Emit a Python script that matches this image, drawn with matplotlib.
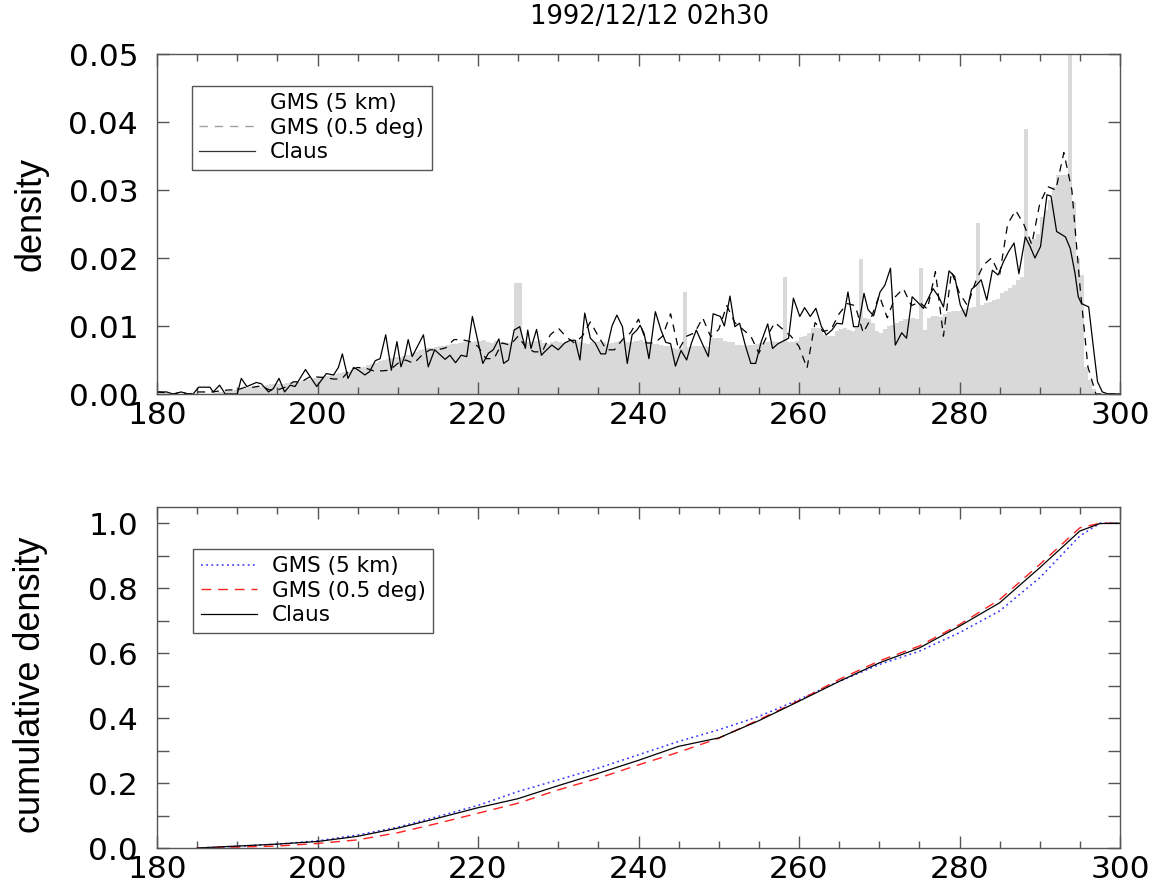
import numpy as np
import matplotlib
matplotlib.use("Agg")
import matplotlib.pyplot as plt
from matplotlib.lines import Line2D
from matplotlib.ticker import MultipleLocator, FormatStrFormatter

# ---------------- data ----------------
title = "1992/12/12 02h30"
series_labels = ["GMS (5 km)", "GMS (0.5 deg)", "Claus"]

# GMS (5 km) histogram, 0.5 K bins from 180 to 300
hist_edges = np.arange(180.0, 300.01, 0.5)
hist_gms5 = [
    0, 0, 0, 0, 0, 0, 0, 0, 0, 0,
    0, 0, 0, 0, 0.0002, 0.0003, 0.0003, 0.0004, 0.0005, 0.0006,
    0.0008, 0.0008, 0.0010, 0.0010, 0.0011, 0.0011, 0.0012, 0.0013, 0.0014, 0.0014,
    0.0015, 0.0015, 0.0016, 0.0017, 0.0018, 0.0018, 0.0020, 0.0021, 0.0022, 0.0023,
    0.0025, 0.0026, 0.0027, 0.0028, 0.0030, 0.0031, 0.0032, 0.0033, 0.0035, 0.0036,
    0.0038, 0.0040, 0.0042, 0.0044, 0.0046, 0.0048, 0.0050, 0.0051, 0.0053, 0.0054,
    0.0055, 0.0056, 0.0058, 0.0060, 0.0062, 0.0064, 0.0066, 0.0067, 0.0068, 0.0069,
    0.0070, 0.0070, 0.0072, 0.0073, 0.0074, 0.0075, 0.0076, 0.0077, 0.0077, 0.0078,
    0.0078, 0.0079, 0.0076, 0.0075, 0.0078, 0.0077, 0.0076, 0.0075, 0.0077, 0.0163,
    0.0163, 0.0078, 0.0077, 0.0076, 0.0078, 0.0079, 0.0075, 0.0074, 0.0076, 0.0078,
    0.0077, 0.0075, 0.0076, 0.0078, 0.0079, 0.0077, 0.0075, 0.0074, 0.0076, 0.0077,
    0.0078, 0.0076, 0.0074, 0.0075, 0.0077, 0.0078, 0.0079, 0.0077, 0.0076, 0.0078,
    0.0079, 0.0077, 0.0075, 0.0073, 0.0074, 0.0072, 0.0071, 0.0070, 0.0068, 0.0066,
    0.0067, 0.0150, 0.0069, 0.0070, 0.0070, 0.0071, 0.0070, 0.0069, 0.0082, 0.0082,
    0.0082, 0.0078, 0.0077, 0.0076, 0.0072, 0.0072, 0.0071, 0.0072, 0.0072, 0.0073,
    0.0075, 0.0077, 0.0077, 0.0078, 0.0077, 0.0076, 0.0172, 0.0077, 0.0077, 0.0078,
    0.0084, 0.0086, 0.0089, 0.0097, 0.0097, 0.0097, 0.0087, 0.0085, 0.0086, 0.0092,
    0.0095, 0.0097, 0.0094, 0.0092, 0.0097, 0.0198, 0.0112, 0.0110, 0.0105, 0.0092,
    0.0090, 0.0095, 0.0100, 0.0102, 0.0105, 0.0108, 0.0110, 0.0110, 0.0112, 0.0110,
    0.0185, 0.0094, 0.0112, 0.0114, 0.0115, 0.0113, 0.0118, 0.0120, 0.0122, 0.0122,
    0.0124, 0.0125, 0.0127, 0.0128, 0.0251, 0.0131, 0.0134, 0.0136, 0.0138, 0.0140,
    0.0148, 0.0152, 0.0156, 0.0160, 0.0168, 0.0172, 0.0390, 0.0226, 0.0228, 0.0236,
    0.0260, 0.0270, 0.0285, 0.0305, 0.0322, 0.0322, 0.0322, 0.0520, 0.0282, 0.0200,
    0.0175, 0.0040, 0.0020, 0.0008, 0, 0, 0, 0, 0, 0,
]

# GMS (0.5 deg) density, 1 K steps
gms05_T = np.arange(180, 301, 1)
gms05_density = [
    0.0003, 0.0002, 0.0000, 0.0002, 0.0000, 0.0003, 0.0003, 0.0003, 0.0005, 0.0006,
    0.0006, 0.0010, 0.0010, 0.0012, 0.0006, 0.0006, 0.0010, 0.0018, 0.0018, 0.0025,
    0.0025, 0.0024, 0.0022, 0.0022, 0.0035, 0.0039, 0.0038, 0.0034, 0.0034, 0.0035,
    0.0045, 0.0050, 0.0045, 0.0057, 0.0065, 0.0065, 0.0068, 0.0080, 0.0080, 0.0077,
    0.0070, 0.0052, 0.0052, 0.0075, 0.0072, 0.0085, 0.0068, 0.0062, 0.0062, 0.0087,
    0.0097, 0.0084, 0.0075, 0.0085, 0.0106, 0.0085, 0.0065, 0.0065, 0.0080, 0.0090,
    0.0110, 0.0075, 0.0075, 0.0085, 0.0118, 0.0065, 0.0085, 0.0090, 0.0112, 0.0084,
    0.0095, 0.0130, 0.0105, 0.0095, 0.0085, 0.0060, 0.0085, 0.0105, 0.0095, 0.0085,
    0.0070, 0.0038, 0.0105, 0.0092, 0.0095, 0.0118, 0.0133, 0.0130, 0.0090, 0.0112,
    0.0145, 0.0112, 0.0143, 0.0155, 0.0130, 0.0135, 0.0125, 0.0180, 0.0085, 0.0180,
    0.0148, 0.0130, 0.0165, 0.0190, 0.0200, 0.0175, 0.0250, 0.0270, 0.0250, 0.0220,
    0.0280, 0.0305, 0.0300, 0.0355, 0.0300, 0.0160, 0.0040, 0.0000, 0.0000, 0.0000,
    0.0000,
]

# Claus density (temperatures of the line's vertices)
claus_T = [
    180.2, 181.2, 182.0, 183.0, 183.9, 184.5, 185.2, 186.6, 187.0, 187.8,
    188.5, 190.0, 190.5, 191.2, 192.4, 193.0, 193.9, 194.5, 195.2, 195.9,
    196.6, 197.2, 198.5, 199.9, 201.1, 202.0, 202.6, 203.1, 203.8, 204.5,
    205.1, 205.9, 206.5, 207.2, 207.8, 208.5, 209.2, 209.9, 210.4, 210.9,
    211.3, 211.8, 213.2, 213.8, 214.6, 215.9, 216.5, 217.2, 217.9, 218.6,
    219.3, 220.6, 221.3, 221.9, 222.6, 223.2, 223.8, 224.5, 225.2, 225.9,
    226.2, 226.6, 227.3, 227.9, 228.3, 229.2, 230.0, 230.8, 231.5, 232.1,
    232.7, 233.3, 234.0, 234.6, 235.3, 235.9, 236.7, 237.3, 238.0, 238.6,
    239.2, 239.8, 240.2, 240.7, 241.3, 242.1, 242.8, 243.4, 244.0, 244.6,
    245.3, 246.0, 246.6, 247.2, 248.1, 248.7, 249.3, 250.2, 250.7, 251.4,
    252.0, 252.6, 253.3, 254.0, 254.6, 255.3, 256.1, 256.7, 257.4, 258.7,
    259.3, 260.1, 260.7, 261.4, 262.1, 262.8, 263.4, 264.1, 264.7, 265.4,
    266.1, 266.8, 267.4, 268.1, 268.6, 269.3, 270.1, 270.7, 271.4, 272.0,
    272.8, 273.4, 274.1, 274.7, 275.5, 276.7, 277.4, 278.0, 278.7, 279.4,
    280.1, 280.8, 281.5, 282.1, 282.7, 283.4, 284.1, 284.8, 285.5, 286.1,
    286.8, 287.4, 288.2, 288.8, 289.4, 290.1, 290.9, 291.4, 292.1, 293.2,
    293.8, 294.4, 294.8, 295.2, 296.1, 296.7, 297.2, 297.8, 298.5, 300.0,
]
claus_density = [
    0.0003, 0.0003, 0.0000, 0.0003, 0.0000, 0.0000, 0.0010, 0.0010, 0.0003, 0.0013,
    0.0000, 0.0000, 0.0023, 0.0011, 0.0017, 0.0015, 0.0003, 0.0008, 0.0023, 0.0003,
    0.0013, 0.0011, 0.0036, 0.0011, 0.0030, 0.0028, 0.0039, 0.0059, 0.0023, 0.0039,
    0.0035, 0.0028, 0.0033, 0.0049, 0.0052, 0.0087, 0.0035, 0.0077, 0.0040, 0.0057,
    0.0080, 0.0055, 0.0087, 0.0040, 0.0065, 0.0051, 0.0057, 0.0046, 0.0057, 0.0055,
    0.0114, 0.0045, 0.0060, 0.0065, 0.0081, 0.0045, 0.0050, 0.0094, 0.0099, 0.0067,
    0.0094, 0.0067, 0.0095, 0.0057, 0.0062, 0.0072, 0.0065, 0.0075, 0.0079, 0.0079,
    0.0050, 0.0119, 0.0082, 0.0075, 0.0059, 0.0059, 0.0100, 0.0116, 0.0099, 0.0045,
    0.0087, 0.0094, 0.0101, 0.0089, 0.0052, 0.0121, 0.0094, 0.0076, 0.0074, 0.0041,
    0.0064, 0.0050, 0.0075, 0.0094, 0.0070, 0.0055, 0.0118, 0.0114, 0.0100, 0.0144,
    0.0099, 0.0104, 0.0072, 0.0045, 0.0045, 0.0077, 0.0103, 0.0067, 0.0074, 0.0082,
    0.0141, 0.0114, 0.0127, 0.0114, 0.0126, 0.0099, 0.0087, 0.0094, 0.0104, 0.0103,
    0.0150, 0.0099, 0.0099, 0.0148, 0.0124, 0.0115, 0.0150, 0.0160, 0.0185, 0.0072,
    0.0090, 0.0082, 0.0143, 0.0136, 0.0126, 0.0155, 0.0143, 0.0128, 0.0181, 0.0173,
    0.0131, 0.0114, 0.0154, 0.0160, 0.0168, 0.0138, 0.0182, 0.0175, 0.0195, 0.0209,
    0.0222, 0.0177, 0.0231, 0.0217, 0.0200, 0.0217, 0.0293, 0.0291, 0.0239, 0.0231,
    0.0214, 0.0177, 0.0143, 0.0133, 0.0128, 0.0067, 0.0018, 0.0003, 0.0000, 0.0000,
]

# cumulative densities
cum_T = [185, 190, 195, 200, 205, 210, 215, 220, 225, 230, 235, 240, 245, 250,
         255, 260, 265, 270, 275, 280, 285, 290, 295, 297.5, 300]
cum_gms5 = [0.0, 0.005, 0.012, 0.022, 0.040, 0.064, 0.097, 0.131, 0.174, 0.210,
            0.246, 0.287, 0.328, 0.364, 0.405, 0.457, 0.513, 0.565, 0.606, 0.663,
            0.730, 0.832, 0.961, 1.0, 1.0]
cum_gms05 = [0.0, 0.003, 0.006, 0.014, 0.025, 0.047, 0.076, 0.107, 0.138, 0.179,
             0.215, 0.256, 0.295, 0.338, 0.395, 0.454, 0.519, 0.576, 0.622, 0.688,
             0.765, 0.873, 0.986, 1.0, 1.0]
cum_claus = [0.0, 0.006, 0.012, 0.020, 0.036, 0.061, 0.092, 0.124, 0.152, 0.192,
             0.230, 0.270, 0.313, 0.339, 0.392, 0.452, 0.513, 0.570, 0.616, 0.683,
             0.755, 0.863, 0.976, 0.999, 1.0]

# ---------------- figure ----------------
W, H = 1158, 894
fig = plt.figure(figsize=(W / 100, H / 100), dpi=100)
ax1 = fig.add_axes([157 / W, 1 - 394 / H, 963 / W, 340 / H])
ax2 = fig.add_axes([157 / W, 1 - 848 / H, 963 / W, 341 / H])

spine_col = "#555555"
tick_fs = 22.5

# top panel
ax1.stairs(hist_gms5, hist_edges, fill=True, color="#d9d9d9", linewidth=0)
ax1.plot(gms05_T, gms05_density, color="black", lw=0.9, linestyle=(0, (6, 5)))
ax1.plot(claus_T, claus_density, color="black", lw=0.9)
ax1.set_xlim(180, 300)
ax1.set_ylim(0, 0.05)
ax1.xaxis.set_major_locator(MultipleLocator(20))
ax1.xaxis.set_minor_locator(MultipleLocator(5))
ax1.yaxis.set_major_locator(MultipleLocator(0.01))
ax1.yaxis.set_major_formatter(FormatStrFormatter("%.2f"))

# bottom panel
l5, = ax2.plot(cum_T, cum_gms5, color="#3030ff", lw=1.1, linestyle=(0, (1.2, 2.2)))
l05, = ax2.plot(cum_T, cum_gms05, color="#ff2020", lw=1.0, linestyle=(0, (7, 5)))
lc, = ax2.plot(cum_T, cum_claus, color="black", lw=0.9)
ax2.set_xlim(180, 300)
ax2.set_ylim(0, 1.05)
ax2.xaxis.set_major_locator(MultipleLocator(20))
ax2.xaxis.set_minor_locator(MultipleLocator(5))
ax2.yaxis.set_major_locator(MultipleLocator(0.2))
ax2.yaxis.set_minor_locator(MultipleLocator(0.1))
ax2.yaxis.set_major_formatter(FormatStrFormatter("%.1f"))

for ax in (ax1, ax2):
    for s in ax.spines.values():
        s.set_color(spine_col)
        s.set_linewidth(1.0)
    ax.tick_params(which="both", direction="in", top=True, right=True,
                   color=spine_col, width=1.0, labelsize=tick_fs)
    ax.tick_params(which="major", length=8.6)
    ax.tick_params(which="minor", length=5.0)
    ax.tick_params(axis="y", which="both", pad=13.5)
    ax.tick_params(axis="x", which="both", pad=5)
ax2.tick_params(axis="y", which="minor", length=8.6)

ax1.set_ylabel("density", fontsize=26, family="Liberation Sans")
ax1.yaxis.set_label_coords(-0.113, 0.53)
ax2.set_ylabel("cumulative density", fontsize=26, family="Liberation Sans")
ax2.yaxis.set_label_coords(-0.113, 0.48)

fig.text(650 / W, 1 - 17.5 / H, title, fontsize=18.5, ha="center", va="center")

# legends
h_top = [
    Line2D([], [], color="none"),
    Line2D([], [], color="#a0a0a0", lw=1.0, linestyle=(0, (6, 5))),
    Line2D([], [], color="#333333", lw=0.9),
]
leg_kw = dict(loc="upper left", fontsize=15.5, frameon=True, fancybox=False,
              edgecolor=spine_col, framealpha=1, borderpad=0.35, labelspacing=0.2,
              handlelength=2.6, handletextpad=0.7, borderaxespad=0)
leg1 = ax1.legend(h_top, series_labels, bbox_to_anchor=(0.036, 0.906), **leg_kw)
leg1.get_frame().set_linewidth(1.0)
leg2 = ax2.legend([l5, l05, lc], series_labels, bbox_to_anchor=(0.0374, 0.877), **leg_kw)
leg2.get_frame().set_linewidth(1.0)

fig.savefig("out.png", dpi=100)
